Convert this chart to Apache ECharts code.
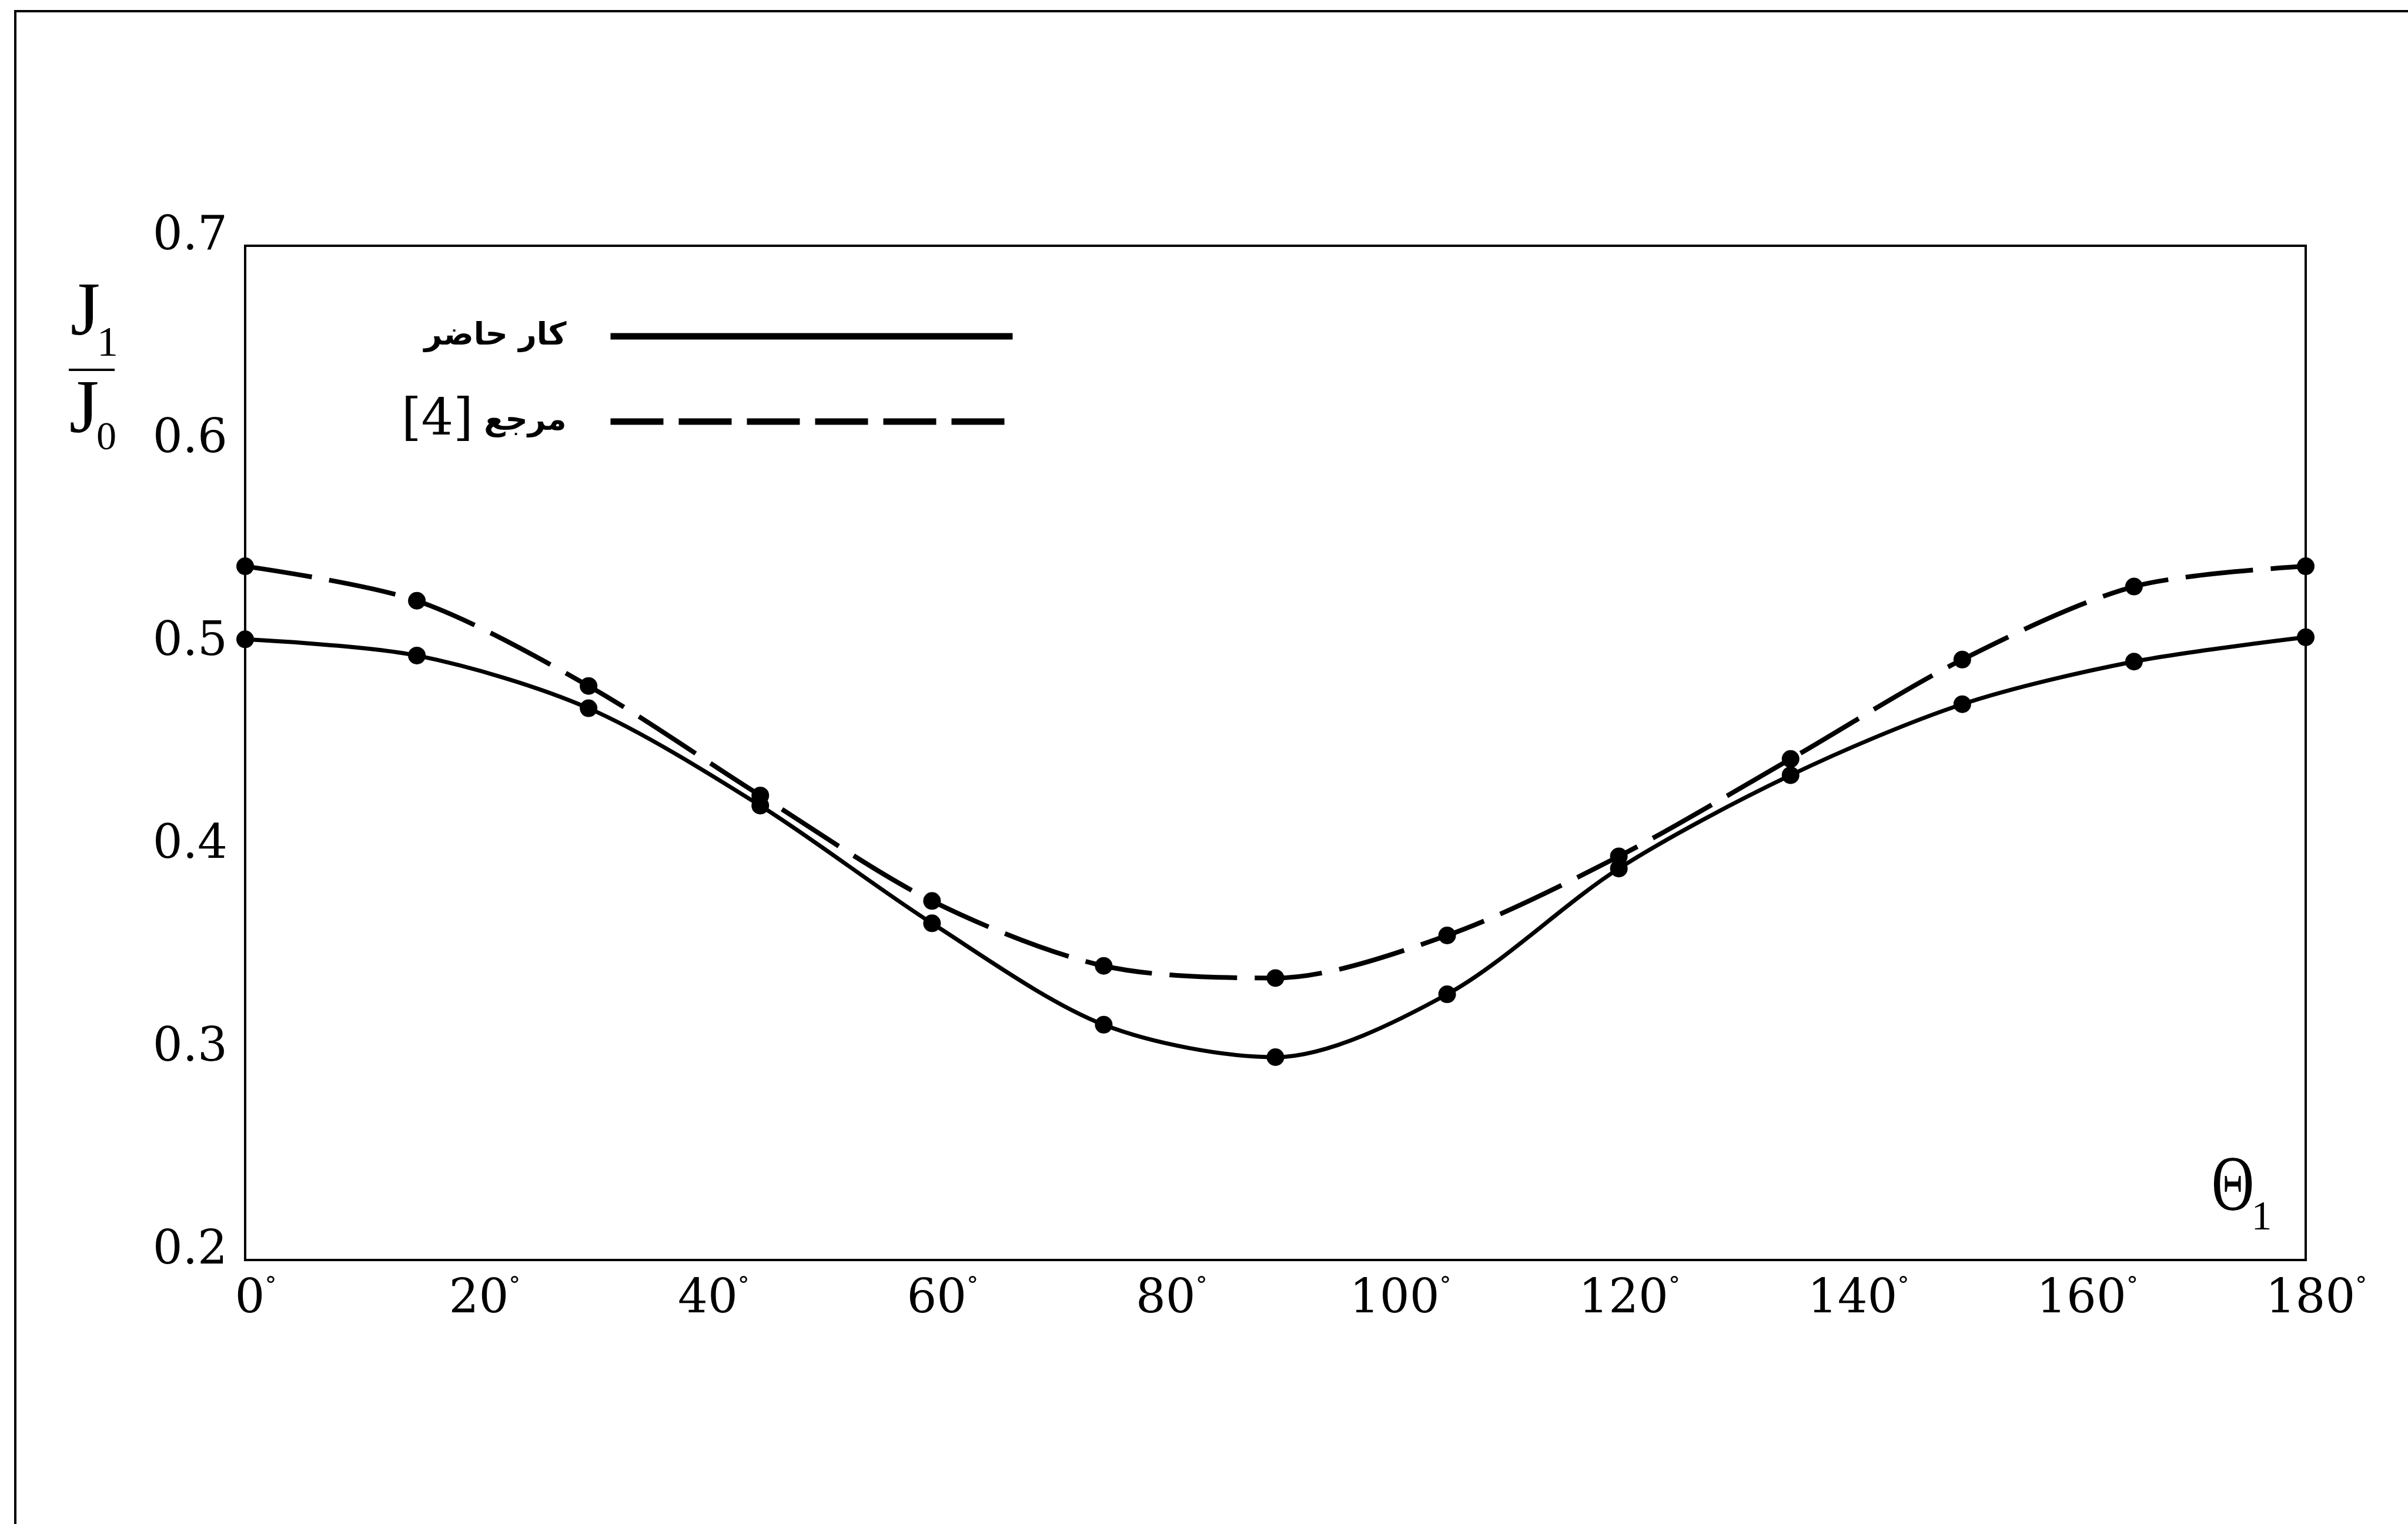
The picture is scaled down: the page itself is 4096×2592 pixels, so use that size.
<!DOCTYPE html>
<html>
<head>
<meta charset="utf-8">
<script src="https://cdn.jsdelivr.net/npm/echarts@6/dist/echarts.min.js"></script>
<style>
html,body{margin:0;padding:0;background:#fff;}
#c{width:4096px;height:2592px;}
</style>
</head>
<body>
<div id="c"></div>
<script>
// ---- data ----
const angles = [0, 15, 30, 45, 60, 75, 90, 105, 120, 135, 150, 165, 180];
const presentWork = [0.506, 0.498, 0.472, 0.424, 0.366, 0.316, 0.300, 0.331, 0.393, 0.439, 0.474, 0.495, 0.507];
const reference4 = [0.542, 0.525, 0.483, 0.429, 0.377, 0.345, 0.339, 0.360, 0.399, 0.447, 0.496, 0.532, 0.542];
const seriesNames = ['کار حاضر', 'مرجع [4]'];
const xTicks = { min: 0, max: 180, interval: 20 };
const yTicks = { min: 0.2, max: 0.7, interval: 0.1 };

const toPairs = (xs, ys) => xs.map((x, i) => [x, ys[i]]);

const SERIF = '"DejaVu Serif", serif';
const TSERIF = '"Liberation Serif", serif';
const ARAB = '"DejaVu Sans", sans-serif';

const chart = echarts.init(document.getElementById('c'), null, { renderer: 'canvas' });

chart.setOption({
  backgroundColor: '#fff',
  animation: false,
  grid: {
    left: 417, top: 418, width: 3505, height: 1725,
    show: true, borderColor: '#000', borderWidth: 4, backgroundColor: 'transparent'
  },
  xAxis: {
    type: 'value', min: xTicks.min, max: xTicks.max, interval: xTicks.interval,
    axisLine: { show: false }, axisTick: { show: false }, splitLine: { show: false },
    axisLabel: {
      margin: 26,
      padding: [0, 0, 0, 36],
      formatter: v => `{n|${v}}{d|°}`,
      rich: {
        n: { fontFamily: SERIF, fontSize: 80, color: '#000', lineHeight: 84 },
        d: { fontFamily: SERIF, fontSize: 40, color: '#000', lineHeight: 40, verticalAlign: 'top' }
      }
    }
  },
  yAxis: {
    type: 'value', min: yTicks.min, max: yTicks.max, interval: yTicks.interval,
    axisLine: { show: false }, axisTick: { show: false }, splitLine: { show: false },
    axisLabel: {
      margin: 30,
      verticalAlign: 'bottom',
      lineHeight: 30,
      fontFamily: SERIF, fontSize: 80, color: '#000',
      formatter: v => v.toFixed(1)
    }
  },
  legend: {
    orient: 'vertical', align: 'right', right: 2368, top: 542, padding: 0,
    itemWidth: 684, itemHeight: 60, itemGap: 72, selectedMode: false,
    itemStyle: { opacity: 0 },
    lineStyle: { width: 11 },
    data: [
      { name: seriesNames[0], lineStyle: { width: 11, type: 'solid' } },
      { name: seriesNames[1], lineStyle: { width: 11, type: [90, 26] } }
    ],
    formatter: name => name === seriesNames[1]
      ? '{b|[4]}{a| مرجع}'
      : '{a|' + name + '}',
    textStyle: {
      color: '#000', padding: [0, 70, 0, 0], lineHeight: 60,
      rich: {
        a: { fontFamily: ARAB, fontWeight: 'bold', fontSize: 53, lineHeight: 60, color: '#000' },
        b: { fontFamily: SERIF, fontSize: 86, lineHeight: 60, color: '#000' }
      }
    }
  },
  series: [
    {
      name: seriesNames[0], type: 'line', data: toPairs(angles, presentWork),
      smooth: 0.3, symbol: 'circle', symbolSize: 30,
      lineStyle: { color: '#000', width: 7, type: 'solid' },
      itemStyle: { color: '#000' }
    },
    {
      name: seriesNames[1], type: 'line', data: toPairs(angles, reference4),
      smooth: 0.3, symbol: 'circle', symbolSize: 30,
      lineStyle: { color: '#000', width: 8, type: [115, 30] },
      itemStyle: { color: '#000' }
    }
  ],
  graphic: [
    // outer frame (top and left edges)
    { type: 'polyline', shape: { points: [[26, 2592], [26, 19], [4096, 19]] },
      style: { stroke: '#000', lineWidth: 4, fill: null } },
    // y-axis name: J1 / J0
    { type: 'text', x: 145, y: 535,
      style: { text: 'J', font: '130px ' + TSERIF, fill: '#000', align: 'center', verticalAlign: 'middle', textAlign: 'center', textVerticalAlign: 'middle' } },
    { type: 'text', x: 183, y: 586,
      style: { text: '1', font: '72px ' + TSERIF, fill: '#000', align: 'center', verticalAlign: 'middle', textAlign: 'center', textVerticalAlign: 'middle' } },
    { type: 'line', shape: { x1: 117, y1: 629, x2: 195, y2: 629 },
      style: { stroke: '#000', lineWidth: 4 } },
    { type: 'text', x: 143, y: 701,
      style: { text: 'J', font: '130px ' + TSERIF, fill: '#000', align: 'center', verticalAlign: 'middle', textAlign: 'center', textVerticalAlign: 'middle' } },
    { type: 'text', x: 181, y: 746,
      style: { text: '0', font: '68px ' + TSERIF, fill: '#000', align: 'center', verticalAlign: 'middle', textAlign: 'center', textVerticalAlign: 'middle' } },
    // x-axis name: Θ1
    { type: 'text', x: 3798, y: 2023, scaleX: 0.75,
      style: { text: 'Θ', font: '134px ' + TSERIF, fill: '#000', align: 'center', verticalAlign: 'middle', textAlign: 'center', textVerticalAlign: 'middle' } },
    { type: 'text', x: 3847, y: 2073,
      style: { text: '1', font: '70px ' + TSERIF, fill: '#000', align: 'center', verticalAlign: 'middle', textAlign: 'center', textVerticalAlign: 'middle' } }
  ]
});
</script>
</body>
</html>
